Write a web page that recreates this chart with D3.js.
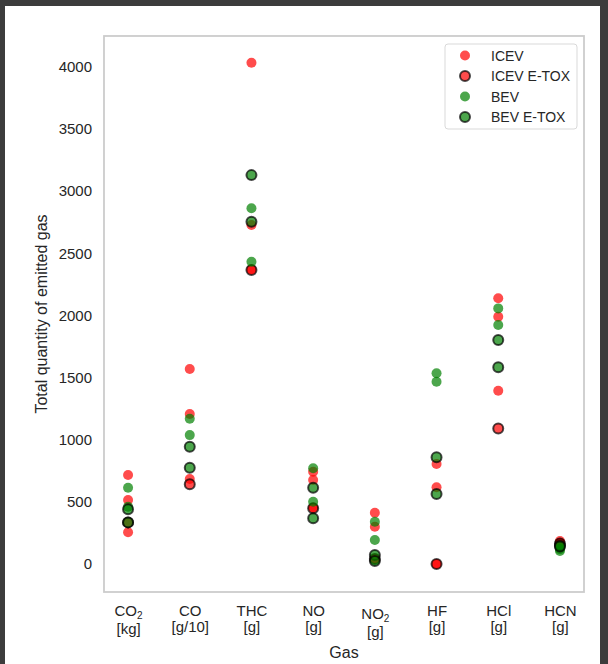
<!DOCTYPE html>
<html lang="en">
<head>
  <meta charset="UTF-8" />
  <title>Total quantity of emitted gas</title>
  <script src="https://d3js.org/d3.v7.min.js"></script>
  <style>
    body { margin: 0; background: #3c3c3c; }
    svg { display: block; font-family: "Liberation Sans", Arial, sans-serif; }
    .tick text { fill: #262626; font-size: 15px; }
    .axis-label { fill: #262626; font-size: 16px; }
    .legend text { fill: #262626; font-size: 14px; }
  </style>
</head>
<body>

<svg width="608" height="664"></svg>

<script>
  // gases on the x axis (label, subscript, unit)
  const gases = ["CO", "CO", "THC", "NO", "NO", "HF", "HCl", "HCN"];
  const subs  = ["2", "", "", "", "2", "", "", ""];
  const units = ["[kg]", "[g/10]", "[g]", "[g]", "[g]", "[g]", "[g]", "[g]"];

  // values, one list per gas
  const icev = [[716, 515, 255], [1568, 1206, 684], [4032, 2727, 2370], [742, 676, 455],
                [413, 300, 45], [804, 617, 0], [2137, 1989, 1394], [185, 170, 160]];
  const icevEtox = [[335], [641], [2365], [448], [40], [0], [1091], [165]];
  const bev = [[614, 461], [1169, 1037], [2861, 2431], [770, 501],
               [340, 193], [1534, 1466], [2056, 1922], [120, 105]];
  const bevEtox = [[440, 335], [944, 775], [3128, 2753], [614, 368],
                   [72, 25], [858, 563], [1801, 1582], [150, 140]];

  const yTicks = d3.range(0, 4001, 500);

  const series = [
    {name: "ICEV", values: icev, fill: "#ff0000", edge: false},
    {name: "ICEV E-TOX", values: icevEtox, fill: "#ff0000", edge: true},
    {name: "BEV", values: bev, fill: "#008000", edge: false},
    {name: "BEV E-TOX", values: bevEtox, fill: "#008000", edge: true}
  ];

  const svg = d3.select("svg");
  const plot = {left: 104, right: 584, top: 36, bottom: 592};

  // white figure on dark page
  svg.append("rect")
     .attr("x", 5).attr("y", 6)
     .attr("width", 595).attr("height", 658)
     .attr("fill", "#fff");

  const x = d3.scaleLinear().domain([-0.39, 7.39]).range([plot.left, plot.right]);
  const y = d3.scaleLinear().domain([-225, 4247]).range([plot.bottom, plot.top]);

  // y axis
  const yAxis = svg.append("g")
     .attr("transform", `translate(${plot.left},0)`)
     .call(d3.axisLeft(y).tickValues(yTicks).tickSize(0).tickPadding(12).tickFormat(d3.format("d")));
  yAxis.select(".domain").remove();
  yAxis.selectAll("text").attr("font-family", null).attr("font-size", null);

  // x axis with two-line labels
  const xAxis = svg.append("g")
     .attr("transform", `translate(0,${plot.bottom})`)
     .call(d3.axisBottom(x).tickValues(d3.range(gases.length)).tickSize(0).tickFormat(""));
  xAxis.select(".domain").remove();
  xAxis.selectAll(".tick").each(function(i) {
    const t = d3.select(this).select("text")
      .attr("font-family", null).attr("font-size", null)
      .attr("y", null).attr("dy", null)
      .attr("text-anchor", "middle");
    const shift = subs[i] ? (i === 4 ? 3 : 0) : 0;
    const l1 = t.append("tspan").attr("x", 0).attr("y", 24 + shift);
    l1.append("tspan").text(gases[i]);
    if (subs[i]) {
      l1.append("tspan").attr("font-size", "10px").attr("dy", 3).text(subs[i]);
    }
    t.append("tspan").attr("x", 0).attr("y", (subs[i] ? 42 : 40) + shift).text(units[i]);
  });

  // frame
  svg.append("rect")
     .attr("x", plot.left).attr("y", plot.top)
     .attr("width", plot.right - plot.left).attr("height", plot.bottom - plot.top)
     .attr("fill", "none")
     .attr("stroke", "#cccccc")
     .attr("stroke-width", 1.8);

  // axis labels
  svg.append("text")
     .attr("class", "axis-label")
     .attr("x", (plot.left + plot.right) / 2)
     .attr("y", 658)
     .attr("text-anchor", "middle")
     .text("Gas");

  svg.append("text")
     .attr("class", "axis-label")
     .attr("transform", `translate(47,${(plot.top + plot.bottom) / 2}) rotate(-90)`)
     .attr("text-anchor", "middle")
     .text("Total quantity of emitted gas");

  // points
  function styleDot(sel, s) {
    sel.attr("r", 5)
       .attr("fill", s.fill)
       .attr("fill-opacity", 0.7)
       .attr("stroke", s.edge ? "#000" : "none")
       .attr("stroke-opacity", 0.7)
       .attr("stroke-width", s.edge ? 2 : 0);
  }

  series.forEach(s => {
    const pts = [];
    s.values.forEach((vals, i) => vals.forEach(v => pts.push({i, v})));
    svg.append("g").selectAll("circle")
       .data(pts)
       .enter()
       .append("circle")
       .attr("cx", d => x(d.i))
       .attr("cy", d => y(d.v))
       .call(styleDot, s);
  });

  // legend
  const legend = svg.append("g").attr("class", "legend");
  legend.append("rect")
        .attr("x", 445).attr("y", 44)
        .attr("width", 132).attr("height", 85)
        .attr("rx", 3)
        .attr("fill", "#fff").attr("fill-opacity", 0.8)
        .attr("stroke", "#d9d9d9");

  series.forEach((s, k) => {
    const row = 55.5 + k * 20.5;
    legend.append("circle")
          .attr("cx", 465).attr("cy", row)
          .call(styleDot, s);
    legend.append("text")
          .attr("x", 491).attr("y", row + 5)
          .text(s.name);
  });
</script>

</body>
</html>
